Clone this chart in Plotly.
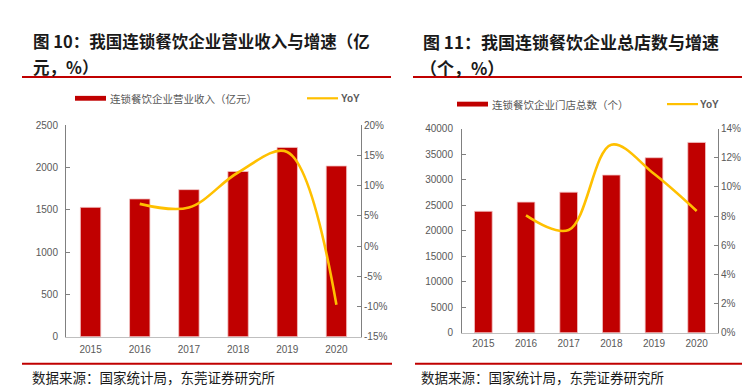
import plotly.graph_objects as go

# ---------------- data ----------------
years = ["2015", "2016", "2017", "2018", "2019", "2020"]
revenue = [1530, 1630, 1740, 1955, 2240, 2020]          # 亿元
revenue_yoy_years = ["2016", "2017", "2018", "2019", "2020"]
revenue_yoy = [7.0, 6.4, 12.2, 15.6, -9.7]             # %
stores = [23800, 25600, 27550, 30900, 34300, 37300]    # 个
stores_yoy_years = ["2016", "2017", "2018", "2019", "2020"]
stores_yoy = [8.05, 7.05, 12.9, 10.9, 8.35]            # %

left_y_ticks = [0, 500, 1000, 1500, 2000, 2500]
left_y2_ticks = [-15, -10, -5, 0, 5, 10, 15, 20]
left_y2_labels = ["-15%", "-10%", "-5%", "0%", "5%", "10%", "15%", "20%"]
right_y_ticks = [0, 5000, 10000, 15000, 20000, 25000, 30000, 35000, 40000]
right_y_labels = ["0", "5000", "10000", "15000", "20000", "25000", "30000", "35000", "40000"]
right_y2_ticks = [0, 2, 4, 6, 8, 10, 12, 14]
right_y2_labels = ["0%", "2%", "4%", "6%", "8%", "10%", "12%", "14%"]

title_left_1 = "图 10：我国连锁餐饮企业营业收入与增速（亿"
title_left_2 = "元，%）"
title_right_1 = "图 11：我国连锁餐饮企业总店数与增速"
title_right_2 = "（个，%）"
legend_bar_left = "连锁餐饮企业营业收入（亿元）"
legend_bar_right = "连锁餐饮企业门店总数（个）"
legend_line = "YoY"
source = "数据来源：国家统计局，东莞证券研究所"

# ---------------- style ----------------
W, H = 750, 386
RED = "#C00000"
GOLD = "#FFC000"
GRAY = "#595959"
TICKFONT = dict(family="Liberation Sans, Arial, sans-serif", size=10, color=GRAY)
CJK = "Noto Sans CJK SC, sans-serif"


def px(x):
    return x / W


def py(y):
    return 1 - y / H


fig = go.Figure()

fig.add_trace(go.Bar(x=years, y=revenue, marker=dict(color=RED, line=dict(color="#f2c4c4", width=0.8)),
                     xaxis="x", yaxis="y", showlegend=False, name=legend_bar_left))
fig.add_trace(go.Scatter(x=revenue_yoy_years, y=revenue_yoy, mode="lines",
                         line=dict(color=GOLD, width=2.6, shape="spline", smoothing=1.0),
                         xaxis="x", yaxis="y2", showlegend=False, name=legend_line))
fig.add_trace(go.Bar(x=years, y=stores, marker=dict(color=RED, line=dict(color="#f2c4c4", width=0.8)),
                     xaxis="x2", yaxis="y3", showlegend=False, name=legend_bar_right))
fig.add_trace(go.Scatter(x=stores_yoy_years, y=stores_yoy, mode="lines",
                         line=dict(color=GOLD, width=2.6, shape="spline", smoothing=1.0),
                         xaxis="x2", yaxis="y4", showlegend=False, name=legend_line))

xcommon = dict(type="category", showline=True, linecolor="#bfbfbf", linewidth=1, ticks="",
               showgrid=False, zeroline=False, tickfont=TICKFONT, fixedrange=True)
ycommon = dict(showline=True, linecolor="#808080", linewidth=1, ticks="inside", ticklen=4,
               tickcolor="#808080", showgrid=False, zeroline=False, tickfont=TICKFONT, fixedrange=True)

fig.update_layout(
    width=W, height=H,
    margin=dict(l=0, r=0, t=0, b=0),
    paper_bgcolor="white", plot_bgcolor="white",
    bargap=0.585,
    xaxis=dict(xcommon, domain=[px(58), px(353)], anchor="y", ticklabelstandoff=3),
    yaxis=dict(ycommon, domain=[py(333), py(115)], anchor="x", range=[0, 2500],
               tickvals=left_y_ticks, ticklabelstandoff=5),
    yaxis2=dict(ycommon, overlaying="y", side="right", anchor="x", range=[-15, 20],
                tickvals=left_y2_ticks, ticktext=left_y2_labels, ticklabelstandoff=0),
    xaxis2=dict(xcommon, domain=[px(454), px(710)], anchor="y3", ticklabelstandoff=1),
    yaxis3=dict(ycommon, domain=[py(329), py(118.3)], anchor="x2", range=[0, 40000],
                tickvals=right_y_ticks, ticktext=right_y_labels, ticklabelstandoff=6),
    yaxis4=dict(ycommon, overlaying="y3", side="right", anchor="x2", range=[0, 14],
                tickvals=right_y2_ticks, ticktext=right_y2_labels, ticklabelstandoff=0),
)

# titles
tfont_l = dict(family=CJK, size=16.5, color="#1a1a1a", weight="bold")
tfont_r = dict(family=CJK, size=17, color="#1a1a1a", weight="bold")
ann = [
    dict(text=title_left_1, x=px(24), y=py(28), font=tfont_l),
    dict(text=title_left_2, x=px(24), y=py(55), font=tfont_l),
    dict(text=title_right_1, x=px(414), y=py(28), font=tfont_r),
    dict(text=title_right_2, x=px(411), y=py(55), font=tfont_r),
    dict(text=legend_bar_left, x=px(101), y=py(87), font=dict(family=CJK, size=10.5, color=GRAY)),
    dict(text=legend_line, x=px(332), y=py(87), font=dict(family=TICKFONT["family"], size=10, color=GRAY, weight="bold")),
    dict(text=legend_bar_right, x=px(483), y=py(93), font=dict(family=CJK, size=10.5, color=GRAY)),
    dict(text=legend_line, x=px(691), y=py(93), font=dict(family=TICKFONT["family"], size=10, color=GRAY, weight="bold")),
    dict(text=source, x=px(23), y=py(375), font=dict(family=CJK, size=13.5, color="#1a1a1a")),
    dict(text=source, x=px(412), y=py(375), font=dict(family=CJK, size=13.5, color="#1a1a1a")),
]
for a in ann:
    fig.add_annotation(xref="paper", yref="paper", xanchor="left", yanchor="middle",
                       showarrow=False, borderpad=0, **a)

# decorative rules and legend keys
shapes = [
    dict(type="line", x0=px(14), x1=px(383), y0=py(65), y1=py(65), line=dict(color=RED, width=2)),
    dict(type="line", x0=px(405), x1=px(741), y0=py(65), y1=py(65), line=dict(color=RED, width=2)),
    dict(type="line", x0=px(14), x1=px(384), y0=py(361), y1=py(361), line=dict(color=RED, width=2)),
    dict(type="line", x0=px(407), x1=px(742), y0=py(361), y1=py(361), line=dict(color=RED, width=2)),
    dict(type="rect", x0=px(67), x1=px(98), y0=py(89.5), y1=py(84.5), fillcolor=RED, line=dict(width=0)),
    dict(type="line", x0=px(299), x1=px(330), y0=py(87), y1=py(87), line=dict(color=GOLD, width=2.2)),
    dict(type="rect", x0=px(449), x1=px(480), y0=py(95.5), y1=py(90.5), fillcolor=RED, line=dict(width=0)),
    dict(type="line", x0=px(659), x1=px(690), y0=py(93), y1=py(93), line=dict(color=GOLD, width=2.2)),
]
for s in shapes:
    fig.add_shape(xref="paper", yref="paper", **s)

fig.write_html("out.html")
